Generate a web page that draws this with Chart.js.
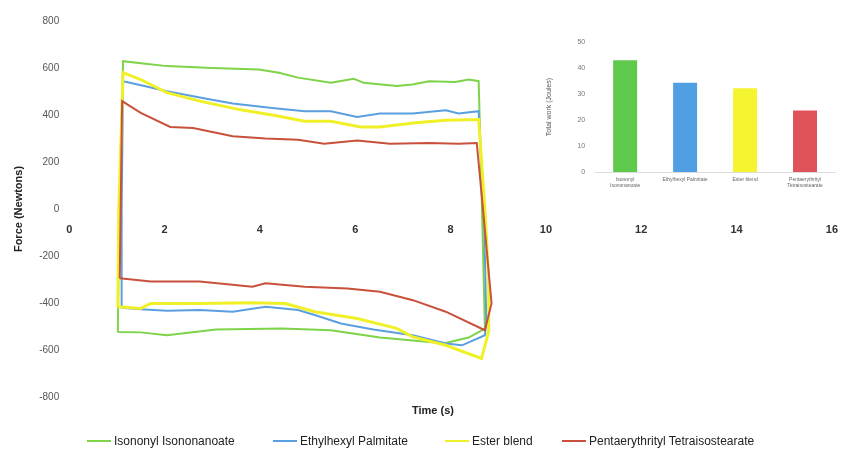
<!DOCTYPE html>
<html>
<head>
<meta charset="utf-8">
<script src="https://cdn.jsdelivr.net/npm/chart.js@4.4.1/dist/chart.umd.min.js"></script>
<style>
  html, body { margin: 0; padding: 0; background: #fff; }
  #wrap { position: relative; width: 852px; height: 454px; overflow: hidden; font-family: "Liberation Sans", Arial, sans-serif; }
  #main { position: absolute; left: 0; top: 0; }
  #inset { position: absolute; left: 530px; top: 25px; }
  #xtitle { position: absolute; left: 0; width: 866px; top: 404px; text-align: center; font-weight: bold; font-size: 11px; color: #222; }
  #legend { position: absolute; left: 0; top: 433px; width: 852px; height: 18px; }
  .li { position: absolute; top: 0; font-size: 12px; color: #222; white-space: nowrap; line-height: 16px; }
  .li i { display: inline-block; width: 24px; height: 2px; vertical-align: middle; margin-right: 3px; position: relative; top: -1px; }
</style>
</head>
<body>
<div id="wrap">
  <canvas id="main" width="852" height="454"></canvas>
  <canvas id="inset" width="315" height="175"></canvas>
  <div id="xtitle">Time (s)</div>
  <div id="legend"></div>
</div>
<script>
// ---- Main chart data (time in s, force in N) ----
const seriesNames = ["Isononyl Isononanoate", "Ethylhexyl Palmitate", "Ester blend", "Pentaerythrityl Tetraisostearate"];
const seriesColors = ["#7ed348", "#5b9fe0", "#f0f028", "#c9503c"];

const greenTime  = [1.02, 1.05, 1.13, 1.6, 2.05, 3.0, 3.98, 4.4, 4.8, 5.49, 5.97, 6.18, 6.87, 7.2, 7.55, 8.1, 8.38, 8.59, 8.66, 8.72, 8.38, 7.9, 7.55, 6.52, 5.49, 4.46, 3.08, 2.05, 1.5, 1.02];
const greenForce = [-523, 0, 629, 618, 608, 600, 594, 580, 559, 537, 554, 537, 523, 530, 544, 540, 551, 544, 0, -509, -547, -570, -566, -547, -516, -509, -513, -537, -525, -523];

const blueTime  = [1.1, 1.1, 1.13, 1.6, 2.05, 2.88, 3.43, 4.26, 4.94, 5.49, 6.04, 6.52, 7.2, 7.9, 8.17, 8.59, 8.7, 8.75, 8.72, 8.24, 7.9, 7.21, 6.38, 5.7, 5.15, 4.8, 4.12, 3.43, 2.74, 2.05, 1.5, 1.1];
const blueForce = [-420, 0, 544, 522, 501, 469, 449, 430, 416, 416, 392, 406, 406, 420, 406, 416, 0, -480, -537, -580, -572, -537, -513, -487, -451, -430, -416, -437, -430, -433, -427, -420];

const yellowTime  = [1.02, 1.04, 1.13, 1.5, 2.05, 2.74, 3.57, 4.32, 4.94, 5.49, 6.11, 6.5, 7.28, 7.9, 8.59, 8.72, 8.8, 8.8, 8.65, 7.9, 7.21, 6.87, 6.04, 5.15, 4.53, 3.77, 2.74, 1.71, 1.5, 1.02];
const yellowForce = [-416, 0, 580, 551, 495, 459, 423, 398, 373, 373, 349, 349, 367, 378, 381, 0, -300, -520, -636, -580, -544, -508, -466, -437, -402, -399, -402, -402, -423, -416];

const redTime  = [1.06, 1.08, 1.11, 1.5, 2.12, 2.6, 3.43, 4.12, 4.8, 5.35, 6.04, 6.73, 7.55, 8.17, 8.55, 8.68, 8.86, 8.72, 7.9, 7.21, 6.52, 5.84, 4.94, 4.12, 3.84, 2.74, 1.71, 1.06];
const redForce = [-295, 0, 459, 409, 349, 345, 310, 300, 295, 278, 292, 278, 281, 278, 281, 0, -402, -516, -437, -388, -352, -338, -331, -316, -331, -309, -309, -295];

const xTicks = [0, 2, 4, 6, 8, 10, 12, 14, 16];
const yTicks = [-800, -600, -400, -200, 0, 200, 400, 600, 800];

// ---- Inset bar chart data ----
const insetLabels = [["Isononyl", "Isononanoate"], ["Ethylhexyl Palmitate"], ["Ester blend"], ["Pentaerythrityl", "Tetraisostearate"]];
const insetWork = [43, 34.3, 32.2, 23.7];
const insetColors = ["#5fc94b", "#4f9fe2", "#f4f431", "#e0525a"];
const insetTicks = [0, 10, 20, 30, 40, 50];

function pts(t, f) { return t.map((x, i) => ({ x: x, y: f[i] })); }
const allSeries = [[greenTime, greenForce], [blueTime, blueForce], [yellowTime, yellowForce], [redTime, redForce]];
const widths = [2, 2, 3, 2];
const orders = [3, 2, 1, 0];

new Chart(document.getElementById('main'), {
  type: 'scatter',
  data: {
    datasets: allSeries.map((s, i) => ({
      label: seriesNames[i],
      data: pts(s[0], s[1]),
      showLine: true,
      borderColor: seriesColors[i],
      backgroundColor: seriesColors[i],
      borderWidth: widths[i],
      pointRadius: 0,
      tension: 0,
      order: orders[i]
    }))
  },
  options: {
    responsive: false,
    animation: false,
    layout: { padding: { left: 8, right: 9, top: 21, bottom: 57 } },
    plugins: { legend: { display: false }, tooltip: { enabled: false } },
    scales: {
      x: {
        type: 'linear', min: 0, max: 16,
        position: { y: 0 },
        afterBuildTicks: (ax) => { ax.ticks = xTicks.map(v => ({ value: v })); },
        ticks: { color: '#333', font: { family: 'Liberation Sans', size: 11, weight: 'bold' }, padding: 14 },
        grid: { display: false, drawTicks: false },
        border: { display: false }
      },
      y: {
        min: -800, max: 800,
        afterBuildTicks: (ax) => { ax.ticks = yTicks.map(v => ({ value: v })); },
        ticks: { color: '#555', font: { family: 'Liberation Sans', size: 10 }, padding: 10 },
        grid: { display: false, drawTicks: false },
        border: { display: false },
        title: { display: true, text: 'Force (Newtons)', color: '#222', font: { family: 'Liberation Sans', size: 11, weight: 'bold' }, padding: 4 }
      }
    }
  }
});

new Chart(document.getElementById('inset'), {
  type: 'bar',
  data: {
    labels: insetLabels,
    datasets: [{ data: insetWork, backgroundColor: insetColors, barPercentage: 0.4, categoryPercentage: 1.0 }]
  },
  options: {
    responsive: false,
    animation: false,
    layout: { padding: { left: 11, right: 10, top: 17, bottom: 6 } },
    plugins: { legend: { display: false }, tooltip: { enabled: false } },
    scales: {
      x: {
        ticks: { color: '#666', font: { family: 'Liberation Sans', size: 5 }, maxRotation: 0, autoSkip: false, padding: 5 },
        grid: { display: false, drawTicks: false },
        border: { display: true, color: '#ddd' }
      },
      y: {
        min: 0, max: 50,
        afterBuildTicks: (ax) => { ax.ticks = insetTicks.map(v => ({ value: v })); },
        ticks: { color: '#777', font: { family: 'Liberation Sans', size: 7 }, padding: 10 },
        grid: { display: false, drawTicks: false },
        border: { display: false },
        title: { display: true, text: 'Total work (Joules)', color: '#555', font: { family: 'Liberation Sans', size: 7 }, padding: { top: 4, bottom: 14 } }
      }
    }
  }
});

// HTML legend built from the series
const legendLeft = [87, 273, 445, 562];
const lg = document.getElementById('legend');
seriesNames.forEach((n, i) => {
  const d = document.createElement('div');
  d.className = 'li';
  d.style.left = legendLeft[i] + 'px';
  const m = document.createElement('i');
  m.style.background = seriesColors[i];
  d.appendChild(m);
  d.appendChild(document.createTextNode(n));
  lg.appendChild(d);
});
</script>
</body>
</html>
